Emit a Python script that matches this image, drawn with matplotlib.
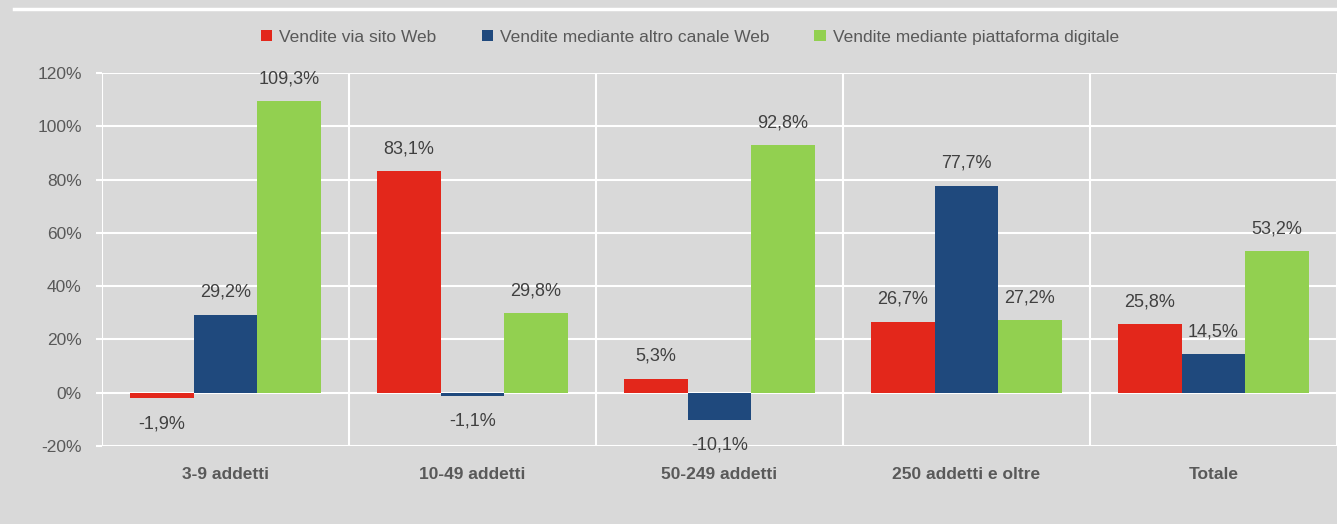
import numpy as np
import matplotlib.pyplot as plt
from matplotlib.lines import Line2D

categories = ["3-9 addetti", "10-49 addetti", "50-249 addetti", "250 addetti e oltre", "Totale"]
series_names = ["Vendite via sito Web", "Vendite mediante altro canale Web",
                "Vendite mediante piattaforma digitale"]
sito_web = [-1.9, 83.1, 5.3, 26.7, 25.8]
altro_canale = [29.2, -1.1, -10.1, 77.7, 14.5]
piattaforma = [109.3, 29.8, 92.8, 27.2, 53.2]
yticks = [-20, 0, 20, 40, 60, 80, 100, 120]

colors = ["#e3271b", "#1f497d", "#92d050"]
bg = "#d9d9d9"
plt.rcParams['font.family'] = ['Liberation Sans', 'DejaVu Sans']

fig = plt.figure(figsize=(13.37, 5.24), dpi=100, facecolor=bg)
ax = fig.add_axes([0.0763, 0.149, 0.9237, 0.7117], facecolor=bg)

x = np.arange(len(categories))
w = 0.257
for i, (vals, name) in enumerate(zip([sito_web, altro_canale, piattaforma], series_names)):
    pos = x + (i - 1) * w
    ax.bar(pos, vals, width=w, color=colors[i], label=name, zorder=3)
    for xp, v in zip(pos, vals):
        lab = ("%.1f%%" % v).replace(".", ",")
        if v >= 0:
            ax.annotate(lab, (xp, v), xytext=(0, 10), textcoords="offset points",
                        ha="center", va="bottom", fontsize=13, color="#404040")
        else:
            ax.annotate(lab, (xp, v), xytext=(0, -12.5), textcoords="offset points",
                        ha="center", va="top", fontsize=13, color="#404040")

ax.set_xlim(-0.5, len(categories) - 0.5)
ax.set_ylim(-20, 120)
ax.set_yticks(yticks)
ax.set_yticklabels(["%d%%" % t for t in yticks], fontsize=12.5, color="#595959")
ax.set_xticks(x)
ax.set_xticklabels(categories, fontsize=12.5, fontweight="bold", color="#595959")
ax.tick_params(axis="x", length=0, pad=15)
ax.tick_params(axis="y", length=4.5, color="white", width=1.5, pad=10)
ax.grid(axis="y", color="white", linewidth=1.5, zorder=1)
for b in np.arange(-0.5, len(categories), 1.0):
    ax.axvline(b, color="white", linewidth=1.5, zorder=1)
for s in ax.spines.values():
    s.set_visible(False)

leg = fig.legend(loc="center", bbox_to_anchor=(0.516, 0.929), ncol=3, frameon=False,
                 fontsize=12.5, handlelength=0.65, handleheight=0.65, columnspacing=2.6,
                 handletextpad=0.4)
for t in leg.get_texts():
    t.set_color("#595959")

fig.add_artist(Line2D([0.0105, 1.0], [0.982, 0.982], color="white", linewidth=2.5,
                      transform=fig.transFigure))

fig.savefig("out.png", dpi=100, facecolor=bg)
